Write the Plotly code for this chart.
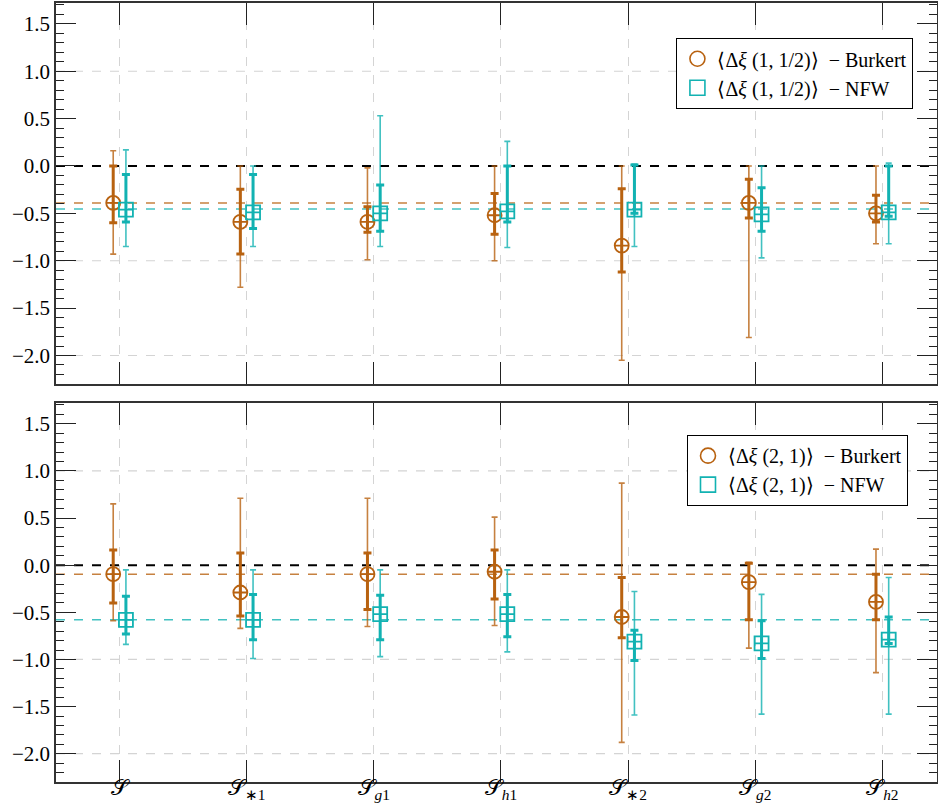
import plotly.graph_objects as go

# ---------------- data ----------------
categories = ["𝒮", "𝒮<sub>∗1</sub>", "𝒮<sub><i>g</i>1</sub>", "𝒮<sub><i>h</i>1</sub>",
              "𝒮<sub>∗2</sub>", "𝒮<sub><i>g</i>2</sub>", "𝒮<sub><i>h</i>2</sub>"]
cat_pos = [0, 1, 2, 3, 4, 5, 6]

# Top panel: <Δξ(1,1/2)>
top_burk_c      = [-0.39, -0.59, -0.59, -0.52, -0.84, -0.39, -0.50]
top_burk_in_hi  = [0.00, -0.245, -0.43, -0.29, -0.24, -0.14, -0.31]
top_burk_in_lo  = [-0.60, -0.93, -0.70, -0.72, -1.12, -0.55, -0.59]
top_burk_out_hi = [0.16, 0.00, -0.02, 0.00, 0.00, 0.00, 0.00]
top_burk_out_lo = [-0.93, -1.28, -0.99, -1.00, -2.05, -1.81, -0.82]

top_nfw_c      = [-0.46, -0.49, -0.50, -0.48, -0.46, -0.51, -0.49]
top_nfw_in_hi  = [-0.09, -0.09, -0.20, 0.00, 0.01, -0.23, 0.00]
top_nfw_in_lo  = [-0.59, -0.66, -0.69, -0.59, -0.50, -0.69, -0.53]
top_nfw_out_hi = [0.17, 0.00, 0.53, 0.26, 0.02, 0.00, 0.03]
top_nfw_out_lo = [-0.85, -0.85, -0.85, -0.86, -0.85, -0.97, -0.82]

top_burk_mean = -0.39
top_nfw_mean = -0.455

# Bottom panel: <Δξ(2,1)>
bot_burk_c      = [-0.095, -0.29, -0.095, -0.07, -0.55, -0.18, -0.39]
bot_burk_in_hi  = [0.16, 0.13, 0.13, 0.16, -0.13, 0.02, -0.095]
bot_burk_in_lo  = [-0.40, -0.54, -0.47, -0.36, -0.77, -0.58, -0.58]
bot_burk_out_hi = [0.65, 0.71, 0.71, 0.51, 0.87, 0.03, 0.17]
bot_burk_out_lo = [-0.59, -0.67, -0.65, -0.64, -1.88, -0.88, -1.14]

bot_nfw_c      = [-0.58, -0.58, -0.52, -0.52, -0.81, -0.83, -0.79]
bot_nfw_in_hi  = [-0.33, -0.31, -0.32, -0.31, -0.69, -0.59, -0.55]
bot_nfw_in_lo  = [-0.73, -0.79, -0.79, -0.76, -1.01, -0.99, -0.83]
bot_nfw_out_hi = [-0.05, -0.05, -0.05, -0.05, -0.28, -0.31, -0.13]
bot_nfw_out_lo = [-0.84, -0.99, -0.97, -0.92, -1.59, -1.58, -1.58]

bot_burk_mean = -0.095
bot_nfw_mean = -0.58

legend_top = ["⟨Δ<i>ξ</i> (1, 1/2)⟩  − Burkert", "⟨Δ<i>ξ</i> (1, 1/2)⟩  − NFW"]
legend_bot = ["⟨Δ<i>ξ</i> (2, 1)⟩  − Burkert", "⟨Δ<i>ξ</i> (2, 1)⟩  − NFW"]

grid_y = [-2, -1, 1]

# ---------------- style ----------------
ORANGE = "rgb(184,98,16)"
ORANGE_L = "rgba(184,98,16,0.8)"
TEAL = "rgb(18,178,178)"
TEAL_L = "rgba(18,178,178,0.8)"
FONT = "Liberation Serif"
OFF = 0.05

fig = go.Figure()


def add_series(xa, ya, c, in_hi, in_lo, out_hi, out_lo, offset, col, col_l, symbol, name, legend):
    xs = [p + offset for p in cat_pos]
    fig.add_trace(go.Scatter(
        x=xs, y=c, xaxis=xa, yaxis=ya, mode="markers",
        marker=dict(size=1, color="rgba(0,0,0,0)"), showlegend=False, hoverinfo="skip",
        error_y=dict(type="data", symmetric=False,
                     array=[h - v for h, v in zip(out_hi, c)],
                     arrayminus=[v - l for l, v in zip(out_lo, c)],
                     color=col_l, thickness=1.6, width=3)))
    fig.add_trace(go.Scatter(
        x=xs, y=c, xaxis=xa, yaxis=ya, mode="markers",
        marker=dict(size=1, color="rgba(0,0,0,0)"), showlegend=False, hoverinfo="skip",
        error_y=dict(type="data", symmetric=False,
                     array=[h - v for h, v in zip(in_hi, c)],
                     arrayminus=[v - l for l, v in zip(in_lo, c)],
                     color=col, thickness=3, width=4)))
    fig.add_trace(go.Scatter(
        x=xs, y=c, xaxis=xa, yaxis=ya, mode="markers",
        marker=dict(symbol=symbol + "-cross-open", size=14, color=col, line=dict(width=1.8, color=col)),
        showlegend=False, name=name))
    fig.add_trace(go.Scatter(
        x=[None], y=[None], xaxis=xa, yaxis=ya, mode="markers",
        marker=dict(symbol=symbol + "-open", size=15, color=col, line=dict(width=1.6, color=col)),
        name=name, showlegend=True, legend=legend))


add_series("x", "y", top_burk_c, top_burk_in_hi, top_burk_in_lo, top_burk_out_hi, top_burk_out_lo,
           -OFF, ORANGE, ORANGE_L, "circle", legend_top[0], "legend")
add_series("x", "y", top_nfw_c, top_nfw_in_hi, top_nfw_in_lo, top_nfw_out_hi, top_nfw_out_lo,
           OFF, TEAL, TEAL_L, "square", legend_top[1], "legend")
add_series("x2", "y2", bot_burk_c, bot_burk_in_hi, bot_burk_in_lo, bot_burk_out_hi, bot_burk_out_lo,
           -OFF, ORANGE, ORANGE_L, "circle", legend_bot[0], "legend2")
add_series("x2", "y2", bot_nfw_c, bot_nfw_in_hi, bot_nfw_in_lo, bot_nfw_out_hi, bot_nfw_out_lo,
           OFF, TEAL, TEAL_L, "square", legend_bot[1], "legend2")

shapes = []
for xa, ya, bm, nm in [("x", "y", top_burk_mean, top_nfw_mean), ("x2", "y2", bot_burk_mean, bot_nfw_mean)]:
    for g in grid_y:
        shapes.append(dict(type="line", xref=xa + " domain", yref=ya, x0=0, x1=1, y0=g, y1=g,
                           line=dict(color="#d4d4d4", width=1.2, dash="dash"), layer="below"))
    shapes.append(dict(type="line", xref=xa + " domain", yref=ya, x0=0, x1=1, y0=0, y1=0,
                       line=dict(color="black", width=2, dash="dash"), layer="below"))
    shapes.append(dict(type="line", xref=xa + " domain", yref=ya, x0=0, x1=1, y0=bm, y1=bm,
                       line=dict(color=ORANGE_L, width=1.5, dash="dash"), layer="below"))
    shapes.append(dict(type="line", xref=xa + " domain", yref=ya, x0=0, x1=1, y0=nm, y1=nm,
                       line=dict(color=TEAL_L, width=1.5, dash="dash"), layer="below"))

xcommon = dict(range=[-0.5, 6.43], tickmode="array", tickvals=cat_pos, ticks="inside", ticklen=22,
               tickwidth=1, tickcolor="#222", showline=True, linecolor="#333", linewidth=1.5,
               mirror="ticks", showgrid=True, gridcolor="#d4d4d4", griddash="dash", gridwidth=1.2,
               zeroline=False, automargin=False)
ycommon = dict(range=[-2.3, 1.72], tickmode="linear", tick0=0, dtick=0.5, ticks="inside", ticklen=20,
               tickwidth=1, tickcolor="#222", showline=True, linecolor="#333", linewidth=1.5,
               mirror="ticks", showgrid=False, zeroline=False, tickformat=".1f", automargin=False,
               tickfont=dict(family=FONT, size=21, color="black"),
               minor=dict(dtick=0.1, ticks="inside", ticklen=8, tickwidth=1, tickcolor="#222",
                          showgrid=False))

fig.update_layout(
    width=938, height=809,
    margin=dict(l=56, r=1, t=3, b=27),
    plot_bgcolor="white", paper_bgcolor="white",
    font=dict(family=FONT, size=19, color="black"),
    shapes=shapes,
    xaxis=dict(**xcommon, anchor="y", showticklabels=False, matches="x2"),
    xaxis2=dict(**xcommon, anchor="y2", ticktext=categories, ticklabelstandoff=-15,
                tickfont=dict(family=FONT, size=22, color="black")),
    yaxis=dict(**ycommon, domain=[0.511, 1.0], anchor="x"),
    yaxis2=dict(**ycommon, domain=[0.0, 0.4865], anchor="x2"),
    legend=dict(x=0.704, y=0.955, xanchor="left", yanchor="top", bgcolor="white",
                bordercolor="black", borderwidth=1.2, font=dict(family=FONT, size=20),
                itemwidth=30, tracegroupgap=2),
    legend2=dict(x=0.716, y=0.4455, xanchor="left", yanchor="top", bgcolor="white",
                 bordercolor="black", borderwidth=1.2, font=dict(family=FONT, size=20),
                 itemwidth=30, tracegroupgap=2),
)

fig.write_html("out.html")
